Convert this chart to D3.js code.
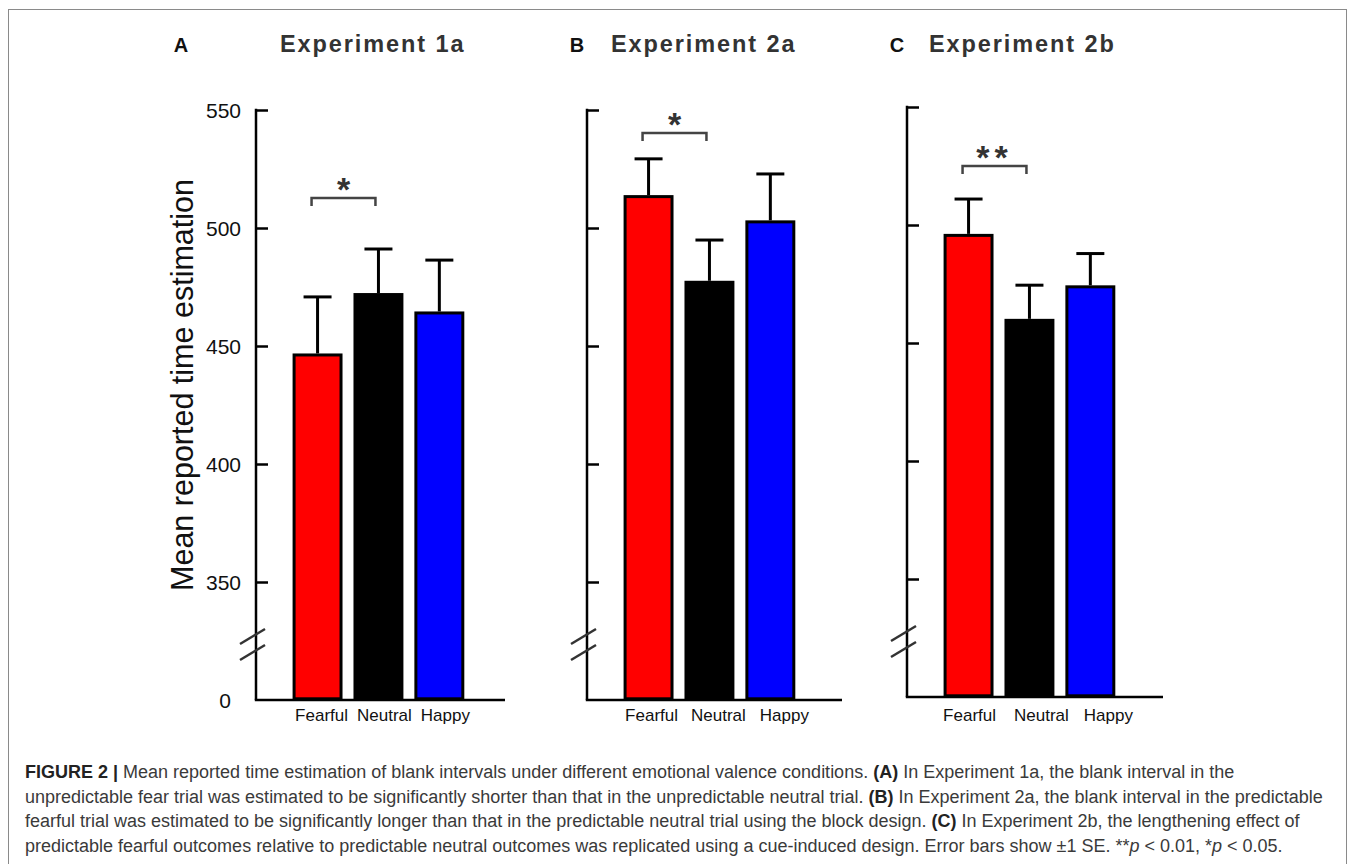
<!DOCTYPE html>
<html>
<head>
<meta charset="utf-8">
<script src="https://cdn.jsdelivr.net/npm/d3@7"></script>
<style>
  html, body { margin: 0; padding: 0; background: #fff; }
  svg { display: block; }
</style>
</head>
<body>
<svg id="chart" width="1355" height="864"></svg>
<script>
// ---------------- DATA ----------------
const categories = ["Fearful", "Neutral", "Happy"];
const panelLetters = ["A", "B", "C"];
const panelTitles = ["Experiment 1a", "Experiment 2a", "Experiment 2b"];

const exp1aMeans = [446.2, 471.8, 464.0];
const exp1aSE    = [24.6, 19.3, 22.4];
const exp2aMeans = [513.3, 477.0, 502.6];
const exp2aSE    = [16.0, 17.9, 20.3];
const exp2bMeans = [495.6, 459.6, 473.8];
const exp2bSE    = [15.4, 14.9, 14.1];

const yTickValues = [350, 400, 450, 500, 550];
const yTickLabels = ["350", "400", "450", "500", "550"];
const yBreakValue = 300;          // axis bottom (shown as "0" after the break)
const yBreakLabel = "0";

const sigLevel  = [512.7, 540.3, 525.0];   // height of significance bracket
const sigLabels = ["*", "*", "**"];
const sigPair   = ["Fearful", "Neutral"];

const barColors = ["#ff0000", "#000000", "#0000ff"];

const yAxisTitle = "Mean reported time estimation";

const captionLines = [
  [{t:"FIGURE 2 | ", b:true}, {t:"Mean reported time estimation of blank intervals under different emotional valence conditions. "}, {t:"(A)", b:true}, {t:" In Experiment 1a, the blank interval in the"}],
  [{t:"unpredictable fear trial was estimated to be significantly shorter than that in the unpredictable neutral trial. "}, {t:"(B)", b:true}, {t:" In Experiment 2a, the blank interval in the predictable"}],
  [{t:"fearful trial was estimated to be significantly longer than that in the predictable neutral trial using the block design. "}, {t:"(C)", b:true}, {t:" In Experiment 2b, the lengthening effect of"}],
  [{t:"predictable fearful outcomes relative to predictable neutral outcomes was replicated using a cue-induced design. Error bars show \u00b11 SE. **"}, {t:"p", i:true}, {t:" < 0.01, *"}, {t:"p", i:true}, {t:" < 0.05."}]
];

// ---------------- LAYOUT ----------------
const panels = [
  {means: exp1aMeans, se: exp1aSE, axisX: 256, top: 110, base: 700, xEnd: 505, showLabels: true,
   letterX: 181, titleX: 280, labelShift: [4, 6, 6], labelDy: 21},
  {means: exp2aMeans, se: exp2aSE, axisX: 587, top: 110, base: 700, xEnd: 842, showLabels: false,
   letterX: 577, titleX: 611, labelShift: [3, 9, 14], labelDy: 21},
  {means: exp2bMeans, se: exp2bSE, axisX: 907, top: 107, base: 697, xEnd: 1163, showLabels: false,
   letterX: 897, titleX: 929, labelShift: [1, 12, 18], labelDy: 24}
];

const svg = d3.select("#chart");
const font = "'Liberation Sans', Arial, Helvetica, sans-serif";

// frame
svg.append("rect")
  .attr("x", 8.5).attr("y", 9.5).attr("width", 1338).attr("height", 860)
  .attr("fill", "none").attr("stroke", "#8a8a8a").attr("stroke-width", 1);

panels.forEach((p, pi) => {
  const g = svg.append("g");
  const y = d3.scaleLinear().domain([yBreakValue, 550]).range([p.base, p.top]);
  const x = d3.scaleBand().domain(categories)
    .range([p.axisX + 30.5, p.axisX + 30.5 + 3 * 61.3])
    .paddingInner(0.18).paddingOuter(0.1);

  // panel letter + title
  g.append("text").attr("x", p.letterX).attr("y", 52)
    .attr("text-anchor", "middle")
    .attr("font-family", font).attr("font-weight", "bold").attr("font-size", 20)
    .attr("fill", "#111").text(panelLetters[pi]);
  g.append("text").attr("x", p.titleX).attr("y", 52)
    .attr("font-family", font).attr("font-weight", "bold").attr("font-size", 23.5)
    .attr("letter-spacing", 1.9)
    .attr("fill", "#333").text(panelTitles[pi]);

  // y axis with inward ticks
  const axis = d3.axisLeft(y).tickValues(yTickValues).tickSize(-12)
    .tickFormat((d, i) => p.showLabels ? yTickLabels[i] : "");
  const ag = g.append("g").attr("transform", `translate(${p.axisX},0)`).call(axis);
  ag.select(".domain").remove();
  ag.selectAll(".tick line").attr("stroke", "#000").attr("stroke-width", 2.5);
  ag.selectAll(".tick text").attr("font-family", font).attr("font-size", 21)
    .attr("fill", "#111").attr("x", -15).attr("dy", "0.36em");

  // axis line (vertical) and baseline
  g.append("line").attr("x1", p.axisX).attr("x2", p.axisX)
    .attr("y1", y(550) - 1.2).attr("y2", y(yBreakValue))
    .attr("stroke", "#000").attr("stroke-width", 2.5);
  g.append("line").attr("x1", p.axisX - 1.2).attr("x2", p.xEnd)
    .attr("y1", y(yBreakValue)).attr("y2", y(yBreakValue))
    .attr("stroke", "#000").attr("stroke-width", 2.5);

  if (p.showLabels) {
    g.append("text").attr("x", p.axisX - 25).attr("y", y(yBreakValue))
      .attr("dy", "0.36em").attr("text-anchor", "end")
      .attr("font-family", font).attr("font-size", 21).attr("fill", "#111")
      .text(yBreakLabel);
    g.append("text")
      .attr("transform", `translate(${p.axisX - 63}, ${(y(550) + y(yBreakValue)) / 2 - 20}) rotate(-90)`)
      .attr("text-anchor", "middle")
      .attr("font-family", font).attr("font-size", 30.5).attr("fill", "#111")
      .text(yAxisTitle);
  }

  // axis break marks
  [64, 48].forEach(off => {
    const cy = p.base - off;
    g.append("line")
      .attr("x1", p.axisX - 16).attr("y1", cy + 8)
      .attr("x2", p.axisX + 9).attr("y2", cy - 7)
      .attr("stroke", "#333").attr("stroke-width", 2.5);
  });

  // bars
  g.selectAll("rect.bar").data(categories).join("rect").attr("class", "bar")
    .attr("x", d => x(d) + 1.5)
    .attr("width", x.bandwidth() - 3)
    .attr("y", (d, i) => y(p.means[i]))
    .attr("height", (d, i) => y(yBreakValue) - y(p.means[i]) - 1.2)
    .attr("fill", (d, i) => barColors[i])
    .attr("stroke", "#000").attr("stroke-width", 3);

  // error bars (upper only)
  categories.forEach((c, i) => {
    const cx = x(c) + x.bandwidth() / 2;
    const yTop = y(p.means[i] + p.se[i]);
    g.append("line").attr("x1", cx).attr("x2", cx)
      .attr("y1", y(p.means[i]) - 1.5).attr("y2", yTop)
      .attr("stroke", "#000").attr("stroke-width", 3);
    g.append("line").attr("x1", cx - 14).attr("x2", cx + 14)
      .attr("y1", yTop).attr("y2", yTop)
      .attr("stroke", "#000").attr("stroke-width", 3);
  });

  // category labels
  g.selectAll("text.cat").data(categories).join("text").attr("class", "cat")
    .attr("x", (d, i) => x(d) + x.bandwidth() / 2 + p.labelShift[i])
    .attr("y", p.base + p.labelDy)
    .attr("text-anchor", "middle")
    .attr("font-family", font).attr("font-size", 17).attr("fill", "#111")
    .text(d => d);

  // significance bracket
  const x1 = x(sigPair[0]) + x.bandwidth() / 2 - 6;
  const x2 = x(sigPair[1]) + x.bandwidth() / 2 - 3;
  const sy = y(sigLevel[pi]);
  g.append("path")
    .attr("d", `M${x1},${sy + 8}V${sy}H${x2}V${sy + 8}`)
    .attr("fill", "none").attr("stroke", "#444").attr("stroke-width", 2.5);
  g.append("text").attr("x", (x1 + x2) / 2).attr("y", sy + 3)
    .attr("text-anchor", "middle")
    .attr("font-family", font).attr("font-size", 34).attr("font-weight", "bold")
    .attr("letter-spacing", sigLabels[pi].length > 1 ? 5 : 0)
    .attr("fill", "#333").text(sigLabels[pi]);
});

// caption
const cap = svg.append("g");
captionLines.forEach((line, li) => {
  const t = cap.append("text").attr("x", 25).attr("y", 778 + li * 24.7)
    .attr("font-family", font).attr("font-size", 18).attr("fill", "#3a3a3a");
  line.forEach(seg => {
    const s = t.append("tspan").text(seg.t);
    if (seg.b) s.attr("font-weight", "bold").attr("fill", "#222");
    if (seg.i) s.attr("font-style", "italic");
  });
});
</script>
</body>
</html>
